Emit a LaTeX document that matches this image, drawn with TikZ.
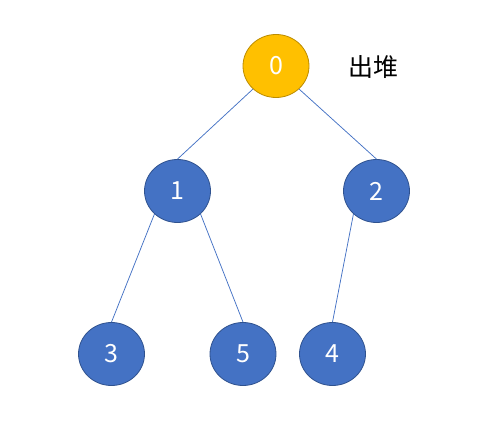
\documentclass[tikz,border=0pt]{standalone}
\usepackage{fontspec}
\setmainfont{Noto Sans CJK SC}
\usetikzlibrary{shapes.geometric}
\definecolor{gold}{HTML}{FFC000}
\definecolor{golde}{HTML}{BC8C00}
\definecolor{blu}{HTML}{4472C4}
\definecolor{blue}{HTML}{2F528F}
\tikzset{
  heapnode/.style={ellipse, draw=blue, fill=blu, line width=0.8pt, minimum width=66pt, minimum height=63pt, inner sep=0pt, text=white, font=\fontsize{25}{28}\selectfont},
  topnode/.style={heapnode, draw=golde, fill=gold},
  link/.style={draw=blu, line width=0.75pt}
}
\begin{document}
\begin{tikzpicture}[x=1pt,y=1pt]
\useasboundingbox (0,0) rectangle (495,439);
\node[topnode] (n0) at (276,373) {0};
\node[heapnode] (n1) at (177.5,248) {1};
\node[heapnode] (n2) at (376.5,248) {2};
\node[heapnode] (n3) at (111.5,85) {3};
\node[heapnode] (n5) at (243,85) {5};
\node[heapnode] (n4) at (332.5,85) {4};
\node[font=\fontsize{25}{28}\selectfont, inner sep=0pt] (lbl) at (373.5,372) {出堆};
\draw[link] (n0.225) -- (n1.north);
\draw[link] (n0.-45) -- (n2.north);
\draw[link] (n1.225) -- (n3.north);
\draw[link] (n1.-45) -- (n5.north);
\draw[link] (n2.225) -- (n4.north);
\end{tikzpicture}
\end{document}
